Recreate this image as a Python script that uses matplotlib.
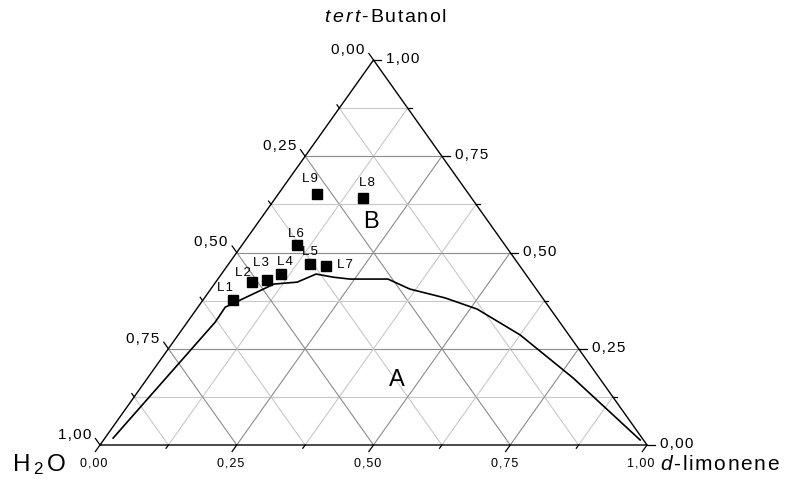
import numpy as np
import matplotlib
matplotlib.use('Agg')
from matplotlib import pyplot as plt

plt.rcParams['font.family'] = ['Liberation Sans', 'DejaVu Sans']
plt.rcParams['mathtext.fontset'] = 'custom'
plt.rcParams['mathtext.rm'] = 'Liberation Sans'
plt.rcParams['mathtext.it'] = 'Liberation Sans:italic'

# sample points (mass fractions)
point_names = ['L1', 'L2', 'L3', 'L4', 'L5', 'L6', 'L7', 'L8', 'L9']
butanol = [0.377, 0.424, 0.429, 0.444, 0.470, 0.520, 0.465, 0.641, 0.651]
limonene = [0.055, 0.065, 0.091, 0.109, 0.149, 0.100, 0.180, 0.161, 0.071]
label_offsets = [(-8, 12), (-9, 9), (-6, 17), (4, 12), (0, 12), (-1, 11), (19, 1), (4, 15), (-7, 15)]

# binodal curve
curve_butanol = [0.018, 0.319, 0.358, 0.418, 0.423, 0.444, 0.436, 0.431, 0.431,
                 0.405, 0.382, 0.353, 0.286, 0.174, 0.013]
curve_limonene = [0.015, 0.051, 0.050, 0.109, 0.149, 0.173, 0.208, 0.241, 0.311,
                  0.364, 0.440, 0.513, 0.625, 0.778, 0.981]

tick_vals = [0.0, 0.25, 0.5, 0.75, 1.0]
tick_text = ['0,00', '0,25', '0,50', '0,75', '1,00']

TS = '\u200a'  # hair space, the original uses a bit of letter spacing


def sp(s):
    return TS.join(s)


W, H = 803, 479
fig = plt.figure(figsize=(W / 100, H / 100), dpi=100)
# triangle: base 100..647 px, y 445 px, apex y 60 px
ax = fig.add_axes([100 / W, (H - 445) / H, 547 / W, 385 / H])
ax.set_xlim(0, 1)
ax.set_ylim(0, 1)
ax.axis('off')

PX = 1 / 547.0
PY = 1 / 385.0


def tern(l, b):
    l = np.asarray(l, dtype=float)
    b = np.asarray(b, dtype=float)
    return l + b / 2, b


# grid
for k in range(1, 8):
    v = k / 8
    col = '#8c8c8c' if k % 2 == 0 else '#c8c8c8'
    x, y = tern([0, 1 - v], [v, v])
    ax.plot(x, y, color=col, lw=0.8, zorder=1)
    x, y = tern([v, v], [0, 1 - v])
    ax.plot(x, y, color=col, lw=0.8, zorder=1)
    x, y = tern([0, 1 - v], [1 - v, 0])
    ax.plot(x, y, color=col, lw=0.8, zorder=1)

# triangle frame
x, y = tern([0, 1, 0, 0], [0, 0, 1, 0])
ax.plot(x, y, color='black', lw=1.0, zorder=3, clip_on=False)

# ticks
for k in range(0, 9):
    v = k / 8
    ln = 8 if k % 2 == 0 else 4
    x0, y0 = tern(v, 0)
    dx, dy = -0.581 * ln * PX, -0.814 * ln * PY
    ax.plot([x0, x0 + dx], [y0, y0 + dy], color='black', lw=0.9, clip_on=False)
    x0, y0 = tern(1 - v, v)
    ax.plot([x0, x0 + ln * PX], [y0, y0], color='black', lw=0.9, clip_on=False)
    x0, y0 = tern(0, 1 - v)
    dx, dy = -0.577 * ln * PX, 0.817 * ln * PY
    ax.plot([x0, x0 + dx], [y0, y0 + dy], color='black', lw=0.9, clip_on=False)

for v, t in zip(tick_vals, tick_text):
    x0, y0 = tern(v, 0)
    ax.annotate(sp(t), (x0, y0), xytext=(-6, -19), textcoords='offset pixels',
                ha='center', va='center', fontsize=9)
    x0, y0 = tern(1 - v, v)
    ax.annotate(sp(t), (x0, y0), xytext=(13, 1), textcoords='offset pixels',
                ha='left', va='center', fontsize=11)
    x0, y0 = tern(0, 1 - v)
    ax.annotate(sp(t), (x0, y0), xytext=(-9, 10), textcoords='offset pixels',
                ha='right', va='center', fontsize=11)

# binodal curve
x, y = tern(curve_limonene, curve_butanol)
ax.plot(x, y, color='black', lw=1.2, zorder=4)

# points
x, y = tern(limonene, butanol)
ax.plot(x, y, 's', color='black', ms=6.5, zorder=5, clip_on=False)
for name, xi, yi, off in zip(point_names, x, y, label_offsets):
    ax.annotate(sp(name), (xi, yi), xytext=off, textcoords='offset pixels',
                ha='center', va='center', fontsize=9.5)

# region labels
x, y = tern(0.459, 0.169)
ax.text(x, y, 'A', ha='center', va='center', fontsize=17)
x, y = tern(0.206, 0.579)
ax.text(x, y, 'B', ha='center', va='center', fontsize=17)

# component names
fig.text(385 / W, 1 - 18 / H, r'$\mathit{t\/e\/r\/t}$' + TS + sp('-Butanol'),
         ha='center', va='center', fontsize=14)
fig.text(12 / W, 1 - 465 / H, r'H$\/_2\/$O', ha='left', va='center', fontsize=17.5)
fig.text(660 / W, 1 - 465 / H, r'$\mathit{d}$' + TS + sp('-limonene'),
         ha='left', va='center', fontsize=15)

plt.savefig('out.png', dpi=100)
